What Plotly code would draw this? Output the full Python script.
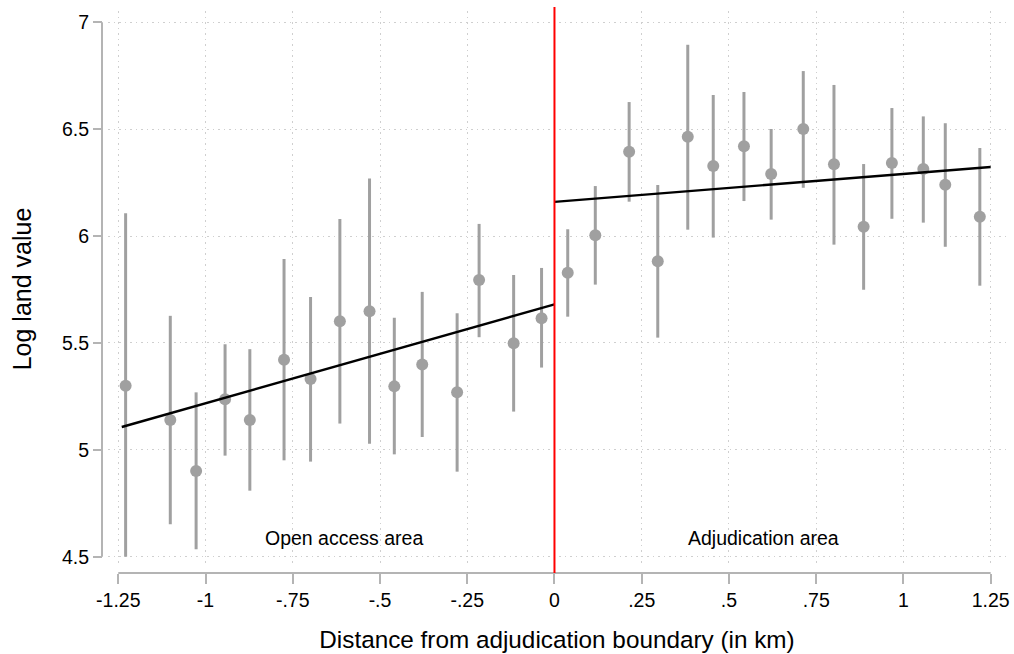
import plotly.graph_objects as go

# Binned means of log land value by distance to the adjudication boundary
dist_open = [-1.229, -1.101, -1.027, -0.944, -0.873, -0.775, -0.699, -0.615,
             -0.530, -0.459, -0.379, -0.279, -0.216, -0.117, -0.037]
mean_open = [5.300, 5.140, 4.901, 5.237, 5.140, 5.422, 5.332, 5.602,
             5.648, 5.297, 5.399, 5.269, 5.795, 5.499, 5.616]
lo_open = [4.500, 4.652, 4.535, 4.973, 4.809, 4.951, 4.945, 5.123,
           5.029, 4.979, 5.060, 4.898, 5.527, 5.179, 5.385]
hi_open = [6.107, 5.627, 5.269, 5.494, 5.471, 5.893, 5.715, 6.080,
           6.270, 5.618, 5.739, 5.639, 6.057, 5.818, 5.851]

dist_adj = [0.038, 0.117, 0.214, 0.296, 0.382, 0.455, 0.543, 0.621,
            0.713, 0.801, 0.886, 0.967, 1.057, 1.120, 1.219]
mean_adj = [5.829, 6.004, 6.395, 5.882, 6.465, 6.328, 6.420, 6.290,
            6.501, 6.336, 6.044, 6.342, 6.314, 6.240, 6.091]
lo_adj = [5.623, 5.773, 6.161, 5.525, 6.030, 5.993, 6.164, 6.077,
          6.226, 5.960, 5.749, 6.081, 6.063, 5.950, 5.768]
hi_adj = [6.032, 6.234, 6.627, 6.239, 6.895, 6.660, 6.674, 6.501,
          6.772, 6.707, 6.337, 6.599, 6.560, 6.528, 6.412]

# Linear fits on each side of the boundary
fit_open_x = [-1.240, 0.0]
fit_open_y = [5.107, 5.681]
fit_adj_x = [0.0, 1.25]
fit_adj_y = [6.160, 6.323]

x_ticks = [-1.25, -1, -0.75, -0.5, -0.25, 0, 0.25, 0.5, 0.75, 1, 1.25]
x_ticktext = ["-1.25", "-1", "-.75", "-.5", "-.25", "0", ".25", ".5", ".75", "1", "1.25"]
y_ticks = [4.5, 5, 5.5, 6, 6.5, 7]
y_ticktext = ["4.5", "5", "5.5", "6", "6.5", "7"]

FONT = "Liberation Sans, Arial, Helvetica, sans-serif"
GRAY = "#a0a0a0"
AXIS = "#b4b4b4"
GRID = "#cfcfcf"

fig = go.Figure()

for xs, ys, lo, hi in [(dist_open, mean_open, lo_open, hi_open),
                       (dist_adj, mean_adj, lo_adj, hi_adj)]:
    fig.add_trace(go.Scatter(
        x=xs, y=ys, mode="markers",
        marker=dict(color=GRAY, size=12, line=dict(width=0)),
        error_y=dict(type="data", symmetric=False,
                     array=[h - m for h, m in zip(hi, ys)],
                     arrayminus=[m - l for m, l in zip(ys, lo)],
                     color=GRAY, thickness=3, width=0),
        showlegend=False, hoverinfo="skip",
    ))

for xs, ys in [(fit_open_x, fit_open_y), (fit_adj_x, fit_adj_y)]:
    fig.add_trace(go.Scatter(x=xs, y=ys, mode="lines",
                             line=dict(color="black", width=2.4),
                             showlegend=False, hoverinfo="skip"))

W, H = 1014, 654
ml, mr, mt, mb = 102, 8, 11, 81
pw, ph = W - ml - mr, H - mt - mb

fig.update_layout(
    width=W, height=H,
    margin=dict(l=ml, r=mr, t=mt, b=mb, pad=0),
    paper_bgcolor="white", plot_bgcolor="white",
    font=dict(family=FONT, color="black"),
    xaxis=dict(
        domain=[6 / pw, 1], anchor="free", position=0,
        range=[-1.2795, 1.2940], autorange=False,
        tickvals=x_ticks, ticktext=x_ticktext,
        ticks="outside", ticklen=10, tickwidth=2, tickcolor=AXIS,
        tickfont=dict(size=19.5, family=FONT),
        showline=False, zeroline=False,
        showgrid=True, gridcolor=GRID, gridwidth=1, griddash="1.5px,4px",
        title=dict(text="Distance from adjudication boundary (in km)",
                   font=dict(size=24.3, family=FONT), standoff=20),
        automargin=False,
    ),
    yaxis=dict(
        domain=[6 / ph, 1], anchor="free", position=0,
        range=[4.452, 7.053], autorange=False,
        tickvals=y_ticks, ticktext=y_ticktext,
        ticks="outside", ticklen=9, tickwidth=2, tickcolor=AXIS,
        tickfont=dict(size=19.5, family=FONT),
        showline=False, zeroline=False,
        showgrid=True, gridcolor=GRID, gridwidth=1, griddash="1.5px,4px",
        title=dict(text="Log land value", font=dict(size=25, family=FONT), standoff=22),
        automargin=False,
    ),
    shapes=[
        # axis lines spanning the labelled scale only
        dict(type="line", xref="x", yref="paper", x0=-1.25, x1=1.25, y0=0, y1=0,
             line=dict(color=AXIS, width=2)),
        dict(type="line", xref="paper", yref="y", x0=0, x1=0, y0=4.5, y1=7,
             line=dict(color=AXIS, width=2)),
        # boundary marker
        dict(type="line", xref="x", yref="paper", x0=0, x1=0, y0=0, y1=(H - mb - 7) / ph,
             line=dict(color="#ff0000", width=2)),
    ],
    annotations=[
        dict(x=-0.603, y=4.59, xref="x", yref="y", text="Open access area",
             showarrow=False, font=dict(size=19.5, family=FONT)),
        dict(x=0.600, y=4.59, xref="x", yref="y", text="Adjudication area",
             showarrow=False, font=dict(size=19.5, family=FONT)),
    ],
)

fig.write_html("out.html")
